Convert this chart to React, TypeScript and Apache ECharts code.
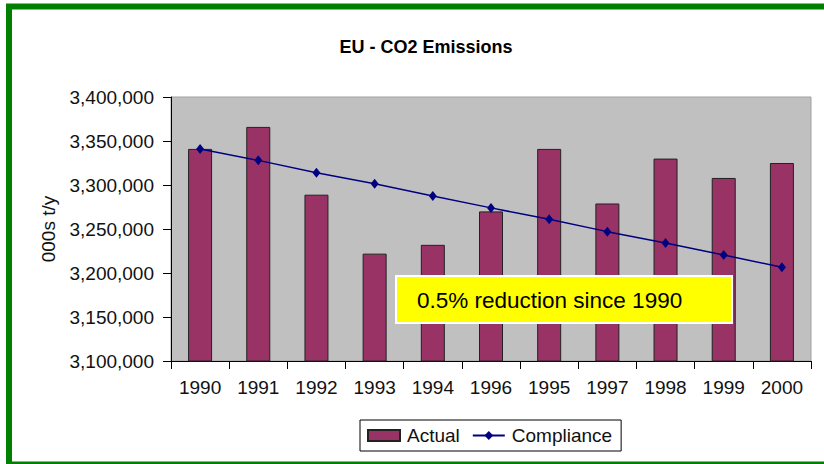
import React, { useEffect, useRef } from "react";
import * as echarts from "echarts";

const categories = ["1990", "1991", "1992", "1993", "1994", "1996", "1995", "1997", "1998", "1999", "2000"];
const actual = [3341000, 3366000, 3289000, 3222000, 3232000, 3270000, 3341000, 3279000, 3330000, 3308000, 3325000];
const compliance = [3341000, 3328000, 3314000, 3301500, 3287500, 3274000, 3261000, 3247000, 3234000, 3220500, 3206500];
const titleText = "EU - CO2 Emissions";
const yAxisName = "000s t/y";
const noteText = "0.5% reduction since 1990";

const FONT = "'Liberation Sans', Arial, sans-serif";

export default function App() {
  const ref = useRef<HTMLDivElement>(null);
  useEffect(() => {
    document.body.style.margin = "0";
    const chart = echarts.init(ref.current!, null, { renderer: "svg" });
    chart.setOption({
      animation: false,
      backgroundColor: "#ffffff",
      textStyle: { fontFamily: FONT },
      title: {
        text: titleText,
        left: 421,
        textAlign: "center",
        top: 33,
        textStyle: { fontFamily: FONT, fontSize: 18, fontWeight: "bold", color: "#000" },
      },
      grid: {
        left: 171,
        right: 13,
        top: 97,
        bottom: 103,
        show: true,
        backgroundColor: "#c0c0c0",
        borderColor: "#a0a0a0",
        borderWidth: 1,
      },
      legend: {
        left: 360,
        top: 420,
        orient: "horizontal",
        itemWidth: 32,
        itemHeight: 11,
        itemGap: 12,
        padding: [6, 9, 6, 7],
        borderColor: "#000",
        borderWidth: 1,
        backgroundColor: "#fff",
        textStyle: { fontFamily: FONT, fontSize: 19, color: "#111", padding: [0, 0, 0, 2] },
        data: [
          { name: "Actual", icon: "rect" },
          { name: "Compliance" },
        ],
      },
      xAxis: {
        type: "category",
        data: categories,
        axisLine: { lineStyle: { color: "#000", width: 1 } },
        axisTick: { show: true, length: 8, lineStyle: { color: "#000" } },
        axisLabel: { fontFamily: FONT, fontSize: 19, color: "#111", margin: 17 },
      },
      yAxis: {
        type: "value",
        min: 3100000,
        max: 3400000,
        interval: 50000,
        name: yAxisName,
        nameLocation: "middle",
        nameGap: 113,
        nameTextStyle: { fontFamily: FONT, fontSize: 19, color: "#111" },
        axisLine: { show: true, lineStyle: { color: "#000", width: 1 } },
        axisTick: { show: true, length: 8, lineStyle: { color: "#000" } },
        splitLine: { show: false },
        axisLabel: {
          fontFamily: FONT,
          fontSize: 19,
          color: "#111",
          margin: 17,
          formatter: (v: number) => v.toLocaleString("en-US"),
        },
      },
      series: [
        {
          name: "Actual",
          type: "bar",
          data: actual,
          barWidth: 24,
          itemStyle: { color: "#993366", borderColor: "#222", borderWidth: 1 },
        },
        {
          name: "Compliance",
          type: "line",
          data: compliance,
          symbol: "diamond",
          symbolSize: [8, 10],
          lineStyle: { color: "#000080", width: 1.5 },
          itemStyle: { color: "#000080" },
        },
      ],
      graphic: [
        {
          type: "rect",
          z: 100,
          shape: { x: 396, y: 276, width: 336, height: 47 },
          style: { fill: "#ffff00", stroke: "#ffffff", lineWidth: 2 },
        },
        {
          type: "text",
          z: 101,
          x: 417,
          y: 300,
          style: {
            text: noteText,
            fontFamily: FONT,
            fontSize: 22.5,
            fill: "#000",
            verticalAlign: "middle",
          },
        },
        {
          type: "rect",
          z: 100,
          shape: { x: 9, y: 6.5, width: 900, height: 458 },
          style: { fill: "none", stroke: "#008000", lineWidth: 6 },
        },
      ],
    });
    return () => chart.dispose();
  }, []);
  return <div ref={ref} style={{ position: "fixed", left: 0, top: 0, width: 824, height: 464 }} />;
}
